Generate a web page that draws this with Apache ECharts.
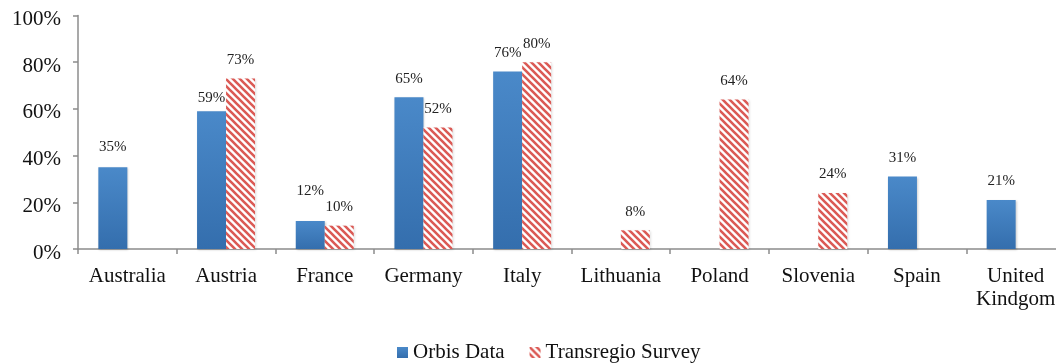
<!DOCTYPE html>
<html>
<head>
<meta charset="utf-8">
<style>
  html, body { margin: 0; padding: 0; background: #ffffff; overflow: hidden; }
  #chart { width: 1070px; height: 364px; }
</style>
<script src="https://cdn.jsdelivr.net/npm/echarts@6/dist/echarts.min.js"></script>
</head>
<body>
<div id="chart"></div>
<script>
// Share of firms by country, two data sources (percent)
const countries = ['Australia', 'Austria', 'France', 'Germany', 'Italy',
                   'Lithuania', 'Poland', 'Slovenia', 'Spain', 'United\nKindgom'];
const orbisData = [35, 59, 12, 65, 76, null, null, null, 31, 21];
const transregioSurvey = [null, 73, 10, 52, 80, 8, 64, 24, null, null];
const yTicks = [0, 20, 40, 60, 80, 100];

const serif = "'Liberation Serif', 'Times New Roman', serif";

// Gap between some value labels and their bars
const orbisLabelGap = { 0: 13, 1: 6, 2: 22 };
const surveyLabelGap = {};

// Diagonal red/white stripes used for the survey bars
function stripePattern() {
  const s = 7;
  const c = document.createElement('canvas');
  c.width = s; c.height = s;
  const g = c.getContext('2d');
  g.fillStyle = '#ffffff';
  g.fillRect(0, 0, s, s);
  g.strokeStyle = '#db5a55';
  g.lineWidth = 2.6;
  g.beginPath();
  for (let k = -1; k <= 1; k++) {
    g.moveTo(-2 + k * s, -2);
    g.lineTo(s + 2 + k * s, s + 2);
  }
  g.stroke();
  return c;
}

const blueFill = {
  type: 'linear', x: 0, y: 0, x2: 0, y2: 1,
  colorStops: [{ offset: 0, color: '#4a89c9' }, { offset: 1, color: '#346ead' }]
};

function withLabels(values, gaps) {
  return values.map((v, i) => {
    if (v === null) return '-';
    return gaps[i] !== undefined ? { value: v, label: { distance: gaps[i] } } : v;
  });
}

const chart = echarts.init(document.getElementById('chart'));
chart.setOption({
  animation: false,
  backgroundColor: '#ffffff',
  grid: { left: 78, top: 15.5, width: 987, bottom: 115, containLabel: false },
  xAxis: {
    type: 'category',
    data: countries,
    boundaryGap: true,
    axisLine: { lineStyle: { color: '#8c8c8c', width: 1.5 } },
    axisTick: { show: true, alignWithLabel: false, length: 5, lineStyle: { color: '#8c8c8c', width: 1.5 } },
    axisLabel: { color: '#111', fontFamily: serif, fontSize: 21, lineHeight: 23, margin: 16, interval: 0 }
  },
  yAxis: {
    type: 'value',
    min: yTicks[0],
    max: yTicks[yTicks.length - 1],
    interval: 20,
    splitLine: { show: false },
    axisLine: { show: true, lineStyle: { color: '#8c8c8c', width: 1.5 } },
    axisTick: { show: true, length: 5, lineStyle: { color: '#8c8c8c', width: 1.5 } },
    axisLabel: {
      color: '#111', fontFamily: serif, fontSize: 21, margin: 17,
      verticalAlign: 'top', lineHeight: 8,
      formatter: '{value}%'
    }
  },
  legend: {
    left: 397,
    top: 342,
    padding: 0,
    itemWidth: 11,
    itemHeight: 11,
    itemGap: 25,
    icon: 'rect',
    textStyle: { color: '#111', fontFamily: serif, fontSize: 21 },
    data: ['Orbis Data', 'Transregio Survey']
  },
  series: [
    {
      name: 'Orbis Data',
      type: 'bar',
      barWidth: 29,
      barGap: '0%',
      data: withLabels(orbisData, orbisLabelGap),
      itemStyle: { color: blueFill, shadowColor: 'rgba(0,0,0,0.18)', shadowBlur: 2, shadowOffsetX: 1, shadowOffsetY: 1 },
      label: {
        show: true, position: 'top', distance: 11,
        color: '#222', fontFamily: serif, fontSize: 15,
        formatter: '{c}%'
      }
    },
    {
      name: 'Transregio Survey',
      type: 'bar',
      barWidth: 29,
      data: withLabels(transregioSurvey, surveyLabelGap),
      itemStyle: { color: { image: stripePattern(), repeat: 'repeat' }, shadowColor: 'rgba(0,0,0,0.12)', shadowBlur: 2, shadowOffsetX: 1, shadowOffsetY: 1 },
      label: {
        show: true, position: 'top', distance: 11,
        color: '#222', fontFamily: serif, fontSize: 15,
        formatter: '{c}%'
      }
    }
  ]
});
</script>
</body>
</html>
